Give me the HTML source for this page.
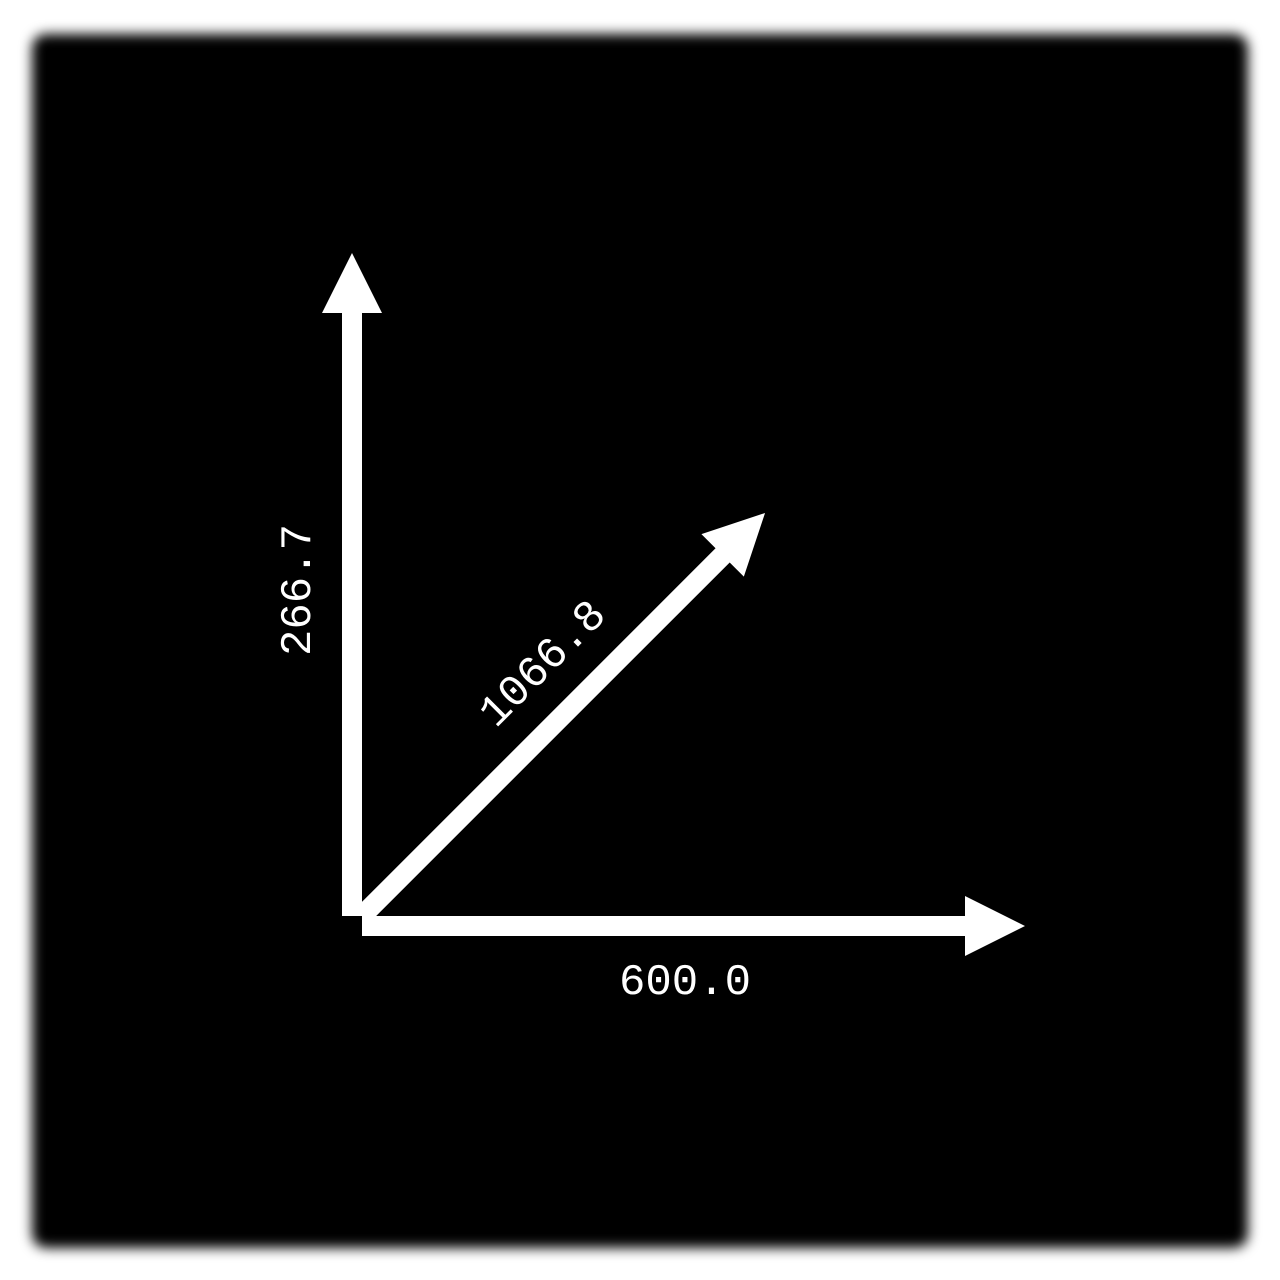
<!DOCTYPE html>
<html><head><meta charset="utf-8"><style>
html,body{margin:0;padding:0;background:#fff;width:1280px;height:1280px;overflow:hidden}
</style></head><body>
<svg width="1280" height="1280" viewBox="0 0 1280 1280">
<defs><filter id="b" x="-5%" y="-5%" width="110%" height="110%"><feGaussianBlur stdDeviation="6"/></filter></defs>
<rect x="32" y="34" width="1216" height="1214" rx="14" fill="#000" filter="url(#b)"/>
<g id="arrows"></g>
</svg>
<script>
const labels=["266.7","1066.8","600.0"];
const values=[266.7,1066.8,600.0];
const NS="http://www.w3.org/2000/svg";
const g=document.getElementById('arrows');
const ox=362, oy=916;
const geo=[{a:90,len:663,dx:-10,dy:0},{a:45,len:570,dx:0,dy:0},{a:0,len:663,dx:0,dy:10}];
const names=['vertical-arrow','diagonal-arrow','horizontal-arrow'];
geo.forEach((o,i)=>{
  const r=o.a*Math.PI/180, ux=Math.cos(r), uy=-Math.sin(r), px=-uy, py=ux;
  const sx=ox+o.dx, sy=oy+o.dy;
  const tx=sx+ux*o.len, ty=sy+uy*o.len;
  const hb=60, hw=30, sw=10;
  const bx=tx-ux*hb, by=ty-uy*hb;
  const pts=[[sx+px*sw,sy+py*sw],[bx+px*sw,by+py*sw],[bx+px*hw,by+py*hw],[tx,ty],[bx-px*hw,by-py*hw],[bx-px*sw,by-py*sw],[sx-px*sw,sy-py*sw]];
  const p=document.createElementNS(NS,'polygon');
  p.setAttribute('points',pts.map(q=>q.join(',')).join(' '));
  p.setAttribute('fill','#fff');
  
  
  g.appendChild(p);
});
const lpos=[{x:299,y:590,rot:-90},{x:544,y:665,rot:-45},{x:685,y:983,rot:0}];
const lnames=['vertical-label','diagonal-label','horizontal-label'];
labels.forEach((t,i)=>{
  const l=lpos[i];
  const e=document.createElementNS(NS,'text');
  e.setAttribute('x',l.x);e.setAttribute('y',l.y);
  e.setAttribute('transform',`rotate(${l.rot} ${l.x} ${l.y})`);
  e.setAttribute('text-anchor','middle');e.setAttribute('dominant-baseline','central');
  e.setAttribute('fill','#fff');e.setAttribute('font-size','44');
  e.setAttribute('font-family','"Liberation Mono", monospace');
  e.textContent=t;
  
  
  g.appendChild(e);
});
</script>
</body></html>
